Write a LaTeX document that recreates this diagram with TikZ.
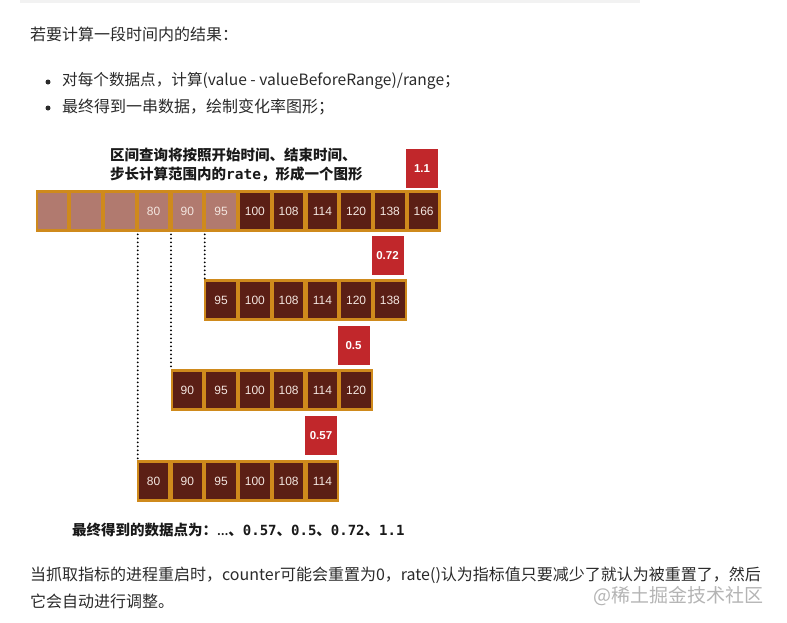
\documentclass[tikz,border=0pt]{standalone}
\usepackage{fontspec}
\setmainfont{Noto Sans CJK SC}
\newfontfamily\cjk{Noto Sans CJK SC}
\newfontfamily\numfont{Liberation Sans}
\newfontfamily\monofont{DejaVu Sans Mono}
\definecolor{frameorange}{HTML}{CF8A1C}
\definecolor{celldark}{HTML}{5B1F15}
\definecolor{celllight}{HTML}{B17A6F}
\definecolor{boxred}{HTML}{C1272B}
\definecolor{celltext}{HTML}{F3E6E0}
\definecolor{bodytext}{HTML}{2A2A2A}
\definecolor{wmark}{HTML}{B4B4B4}
\tikzset{
  rowbox/.style={fill=frameorange, draw=none, minimum height=42, minimum width=#1, anchor=north west, inner sep=0},
  cellbox/.style={fill=celldark, draw=none, minimum width=29.5, minimum height=36, inner sep=0, text=celltext, font=\numfont\fontsize{12}{12}\selectfont},
  lightcell/.style={cellbox, fill=celllight},
  redbox/.style={fill=boxred, draw=none, minimum width=32, minimum height=39, inner sep=0, text=white, font=\numfont\bfseries\fontsize{11.5}{11.5}\selectfont},
  dotline/.style={line width=2.1pt, dash pattern=on 0pt off 4pt, line cap=round, black},
  bodyline/.style={anchor=west, inner sep=0, text=bodytext, font=\cjk\fontsize{16}{16}\selectfont},
  bulletdot/.style={circle, fill=bodytext, inner sep=0, minimum size=5},
  titleline/.style={anchor=west, inner sep=0, text=black!90, font=\cjk\bfseries\fontsize{14.5}{14.5}\selectfont},
}
\begin{document}
\begin{tikzpicture}[x=1pt,y=-1pt]
\useasboundingbox (0,0) rectangle (787,622);
\fill[black!5] (20,0) rectangle (640,2.5);
% body text
\node[bodyline] (t1) at (30,34) {若要计算一段时间内的结果：};
\node[bulletdot] (d1) at (48,82) {};
\node[bodyline, font=\cjk\fontsize{15.6}{15.6}\selectfont] (t2) at (62,81) {对每个数据点，计算(value - valueBeforeRange)/range；};
\node[bulletdot] (d2) at (48,108) {};
\node[bodyline] (t3) at (62,107) {最终得到一串数据，绘制变化率图形；};
% diagram title
\node[titleline] (h1) at (110,155) {区间查询将按照开始时间、结束时间、};
\node[titleline] (h2) at (110,174) {步长计算范围内的{\monofont\bfseries rate}，形成一个图形};
% row 1
\node[rowbox=405] (r1) at (35.5,190) {};
\foreach \v [count=\i from 0] in {{},{},{},80,90,95} {
  \node[lightcell] (r1c\i) at (35.5+33.75*\i+16.875,211) {\v};
}
\foreach \v [count=\i from 6] in {100,108,114,120,138,166} {
  \node[cellbox] (r1c\i) at (35.5+33.75*\i+16.875,211) {\v};
}
% row 2
\node[rowbox=202.5] (r2) at (204.25,279) {};
\foreach \v [count=\i from 0] in {95,100,108,114,120,138} {
  \node[cellbox] (r2c\i) at (204.25+33.75*\i+16.875,300) {\v};
}
% row 3
\node[rowbox=202.5] (r3) at (170.5,369) {};
\foreach \v [count=\i from 0] in {90,95,100,108,114,120} {
  \node[cellbox] (r3c\i) at (170.5+33.75*\i+16.875,390) {\v};
}
% row 4
\node[rowbox=202.5] (r4) at (136.75,460) {};
\foreach \v [count=\i from 0] in {80,90,95,100,108,114} {
  \node[cellbox] (r4c\i) at (136.75+33.75*\i+16.875,481) {\v};
}
% red boxes
\node[redbox] (b1) at (422,168.5) {1.1};
\node[redbox] (b2) at (387.5,255.5) {0.72};
\node[redbox] (b3) at (353.5,345.5) {0.5};
\node[redbox] (b4) at (321,435.5) {0.57};
% dotted guides
\draw[dotline] ([xshift=1pt,yshift=-2pt]r4.north west |- r1.south) -- ([xshift=1pt]r4.north west);
\draw[dotline] ([xshift=0.5pt,yshift=-2pt]r3.north west |- r1.south) -- ([xshift=0.5pt]r3.north west);
\draw[dotline] ([xshift=0.5pt,yshift=-2pt]r2.north west |- r1.south) -- ([xshift=0.5pt]r2.north west);
% result line
\node[titleline] (res) at (72,530) {最终得到的数据点为：{\fontsize{10}{10}\selectfont …}、{\monofont\bfseries\fontsize{14}{14}\selectfont 0.57}、{\monofont\bfseries\fontsize{14}{14}\selectfont 0.5}、{\monofont\bfseries\fontsize{14}{14}\selectfont 0.72}、{\monofont\bfseries\fontsize{14}{14}\selectfont 1.1}};
% bottom text
\node[bodyline] (t4) at (30,575) {当抓取指标的进程重启时，counter可能会重置为0，rate()认为指标值只要减少了就认为被重置了，然后};
\node[bodyline] (t5) at (30,601) {它会自动进行调整。};
\node[anchor=west, inner sep=0, text=wmark, font=\cjk\fontsize{19}{19}\selectfont] (wm) at (593,596) {@稀土掘金技术社区};
\end{tikzpicture}
\end{document}
